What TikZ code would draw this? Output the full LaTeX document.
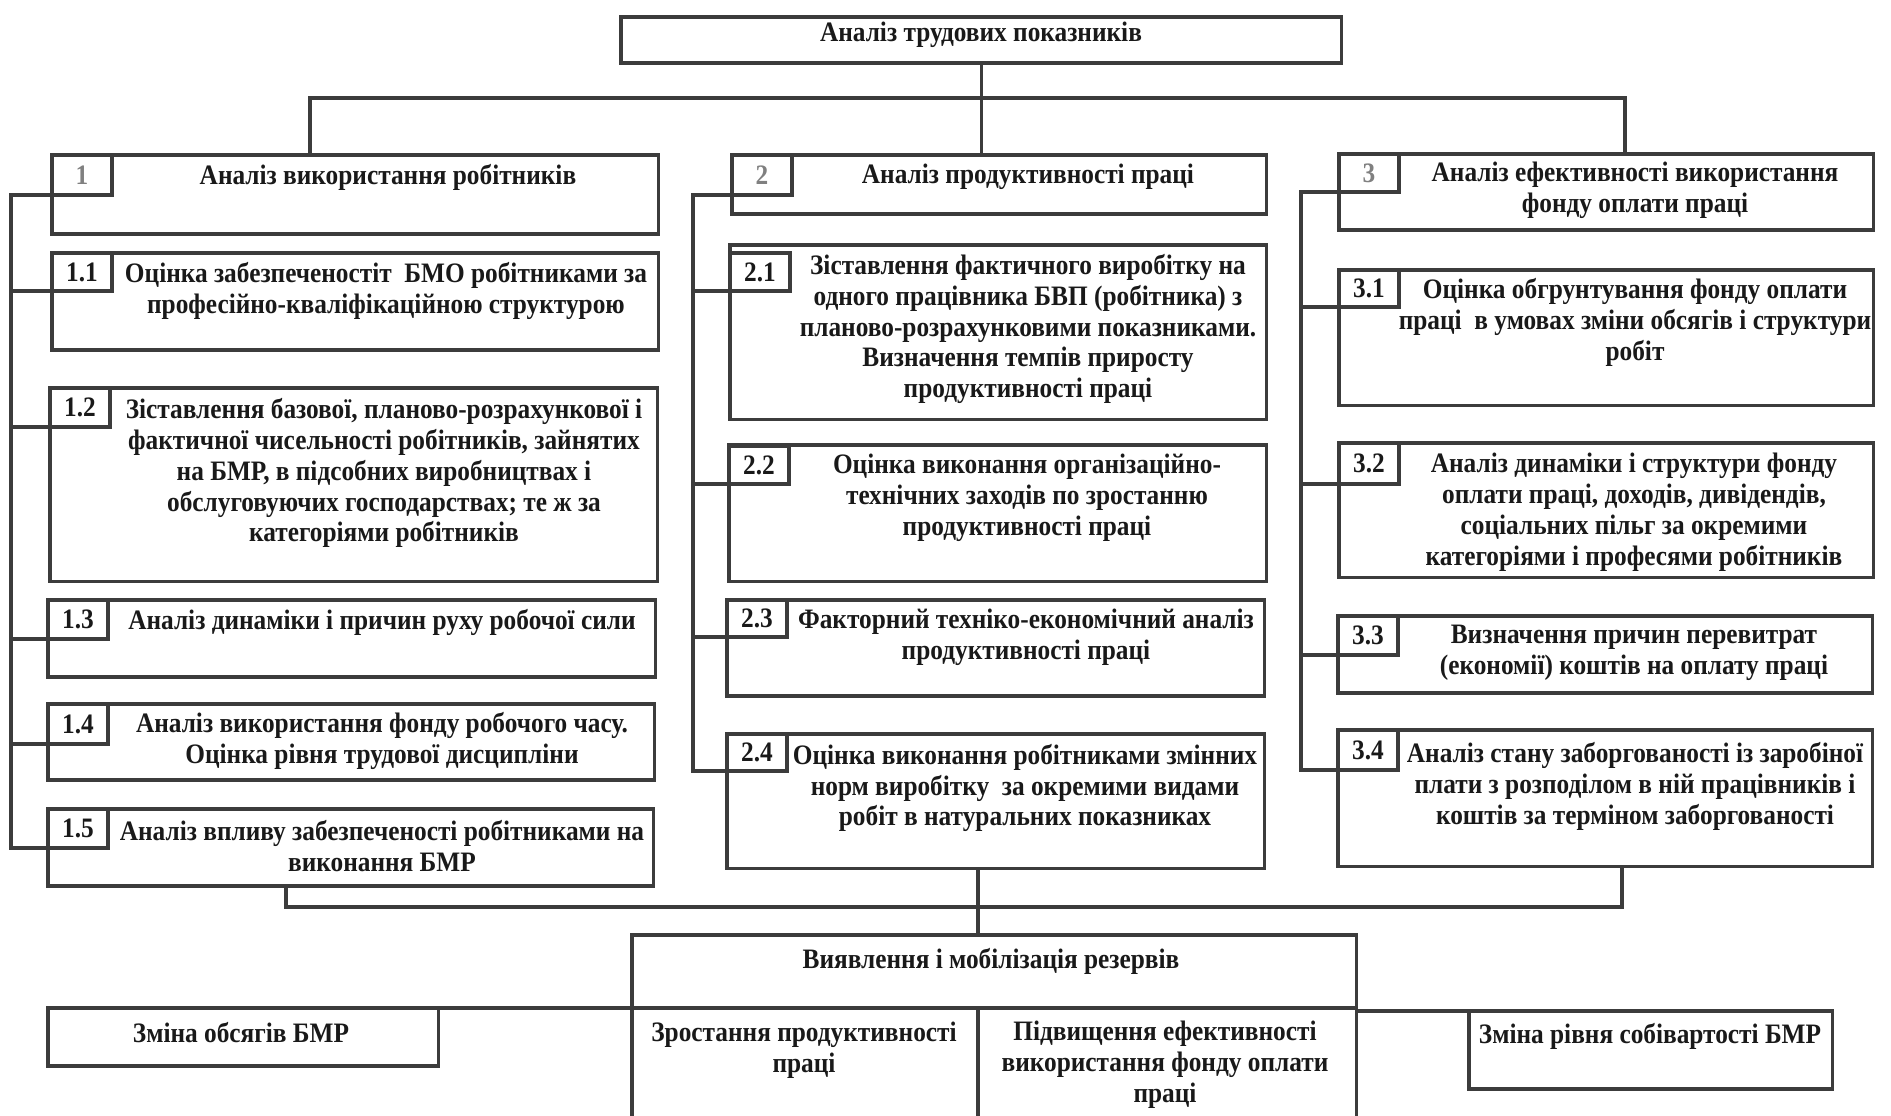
\documentclass[tikz,border=0pt]{standalone}
\usepackage{fontspec}
\setmainfont{Liberation Serif}[FakeStretch=0.9]
\usepackage{xcolor}
\usepackage{tikz}
\usetikzlibrary{calc}

\definecolor{linegray}{RGB}{60,60,60}
\definecolor{inkgray}{RGB}{25,25,25}

\tikzset{
  box/.style={draw=linegray, line width=0.9pt, anchor=north west, inner sep=0pt, outer sep=0pt},
  numbox/.style={box, minimum width=0.6cm, font=\bfseries\fontsize{8}{9}\selectfont, text=inkgray},
  txt/.style={font=\bfseries\fontsize{8}{8.8}\selectfont, align=center, inner sep=0pt, text=inkgray},
  link/.style={draw=linegray, line width=0.9pt}
}

\begin{document}
\begin{tikzpicture}[x=0.01cm, y=-0.01cm]
  \clip (0,0) rectangle (1891,1115);

  % Top box
  \node[box, minimum width=7.2cm, minimum height=0.46cm] (top) at (621,17) {};
  \node[txt] (ttop) at (981,35) {Аналіз трудових показників};

  % Bus under the top box
  \coordinate (busL) at (310,98);
  \coordinate (busR) at (1625,98);

  % Column 1
  \node[box, minimum width=6.06cm, minimum height=0.79cm] (b1) at (52,155) {};
  \node[numbox, minimum height=0.40cm, text=gray] (n1) at (52,155) {1};
  \node[txt] (t1) at (388,177) {Аналіз використання робітників};

  \node[box, minimum width=6.06cm, minimum height=0.97cm] (b11) at (52,253) {};
  \node[numbox, minimum height=0.38cm] (n11) at (52,253) {1.1};
  \node[txt] (t11) at (386,291) {Оцінка забезпеченостіт \ БМО робітниками за\\професійно-кваліфікаційною структурою};

  \node[box, minimum width=6.07cm, minimum height=1.93cm] (b12) at (50,388) {};
  \node[numbox, minimum height=0.39cm] (n12) at (50,388) {1.2};
  \node[txt] (t12) at (384,473) {Зіставлення базової, планово-розрахункової і\\фактичної чисельності робітників, зайнятих\\на БМР, в підсобних виробництвах і\\обслуговуючих господарствах; те ж за\\категоріями робітників};

  \node[box, minimum width=6.07cm, minimum height=0.77cm] (b13) at (48,600) {};
  \node[numbox, minimum height=0.39cm] (n13) at (48,600) {1.3};
  \node[txt] (t13) at (382,622) {Аналіз динаміки і причин руху робочої сили};

  \node[box, minimum width=6.06cm, minimum height=0.76cm] (b14) at (48,704) {};
  \node[numbox, minimum height=0.40cm] (n14) at (48,704) {1.4};
  \node[txt] (t14) at (382,741) {Аналіз використання фонду робочого часу.\\Оцінка рівня трудової дисципліни};

  \node[box, minimum width=6.05cm, minimum height=0.77cm] (b15) at (48,809) {};
  \node[numbox, minimum height=0.39cm] (n15) at (48,809) {1.5};
  \node[txt] (t15) at (382,846) {Аналіз впливу забезпеченості робітниками на\\виконання БМР};

  % Column 2
  \node[box, minimum width=5.34cm, minimum height=0.59cm] (b2) at (732,155) {};
  \node[numbox, minimum height=0.40cm, text=gray] (n2) at (732,155) {2};
  \node[txt] (t2) at (1028,177) {Аналіз продуктивності праці};

  \node[box, minimum width=5.36cm, minimum height=1.74cm] (b21) at (730,245) {};
  \node[numbox, minimum height=0.38cm] (n21) at (730,253) {2.1};
  \node[txt] (t21) at (1028,329) {Зіставлення фактичного виробітку на\\одного працівника БВП (робітника) з\\планово-розрахунковими показниками.\\Визначення темпів приросту\\продуктивності праці};

  \node[box, minimum width=5.37cm, minimum height=1.36cm] (b22) at (729,445) {};
  \node[numbox, minimum height=0.38cm] (n22) at (729,446) {2.2};
  \node[txt] (t22) at (1027,498) {Оцінка виконання організаційно-\\технічних заходів по зростанню\\продуктивності праці};

  \node[box, minimum width=5.37cm, minimum height=0.96cm] (b23) at (727,600) {};
  \node[numbox, minimum height=0.37cm] (n23) at (727,600) {2.3};
  \node[txt] (t23) at (1026,637) {Факторний техніко-економічний аналіз\\продуктивності праці};

  \node[box, minimum width=5.37cm, minimum height=1.34cm] (b24) at (727,734) {};
  \node[numbox, minimum height=0.37cm] (n24) at (727,734) {2.4};
  \node[txt] (t24) at (1025,788) {Оцінка виконання робітниками змінних\\норм виробітку \ за окремими видами\\робіт в натуральних показниках};

  % Column 3
  \node[box, minimum width=5.34cm, minimum height=0.76cm] (b3) at (1339,154) {};
  \node[numbox, minimum height=0.38cm, text=gray] (n3) at (1339,154) {3};
  \node[txt] (t3) at (1635,190) {Аналіз ефективності використання\\фонду оплати праці};

  \node[box, minimum width=5.34cm, minimum height=1.35cm] (b31) at (1339,270) {};
  \node[numbox, minimum height=0.37cm] (n31) at (1339,270) {3.1};
  \node[txt] (t31) at (1635,322) {Оцінка обгрунтування фонду оплати\\праці \ в умовах зміни обсягів і структури\\робіт};

  \node[box, minimum width=5.34cm, minimum height=1.34cm] (b32) at (1339,443) {};
  \node[numbox, minimum height=0.41cm] (n32) at (1339,443) {3.2};
  \node[txt] (t32) at (1634,512) {Аналіз динаміки і структури фонду\\оплати праці, доходів, дивідендів,\\соціальних пільг за окремими\\категоріями і професями робітників};

  \node[box, minimum width=5.34cm, minimum height=0.77cm] (b33) at (1338,616) {};
  \node[numbox, minimum height=0.39cm] (n33) at (1338,616) {3.3};
  \node[txt] (t33) at (1634,653) {Визначення причин перевитрат\\(економії) коштів на оплату праці};

  \node[box, minimum width=5.34cm, minimum height=1.36cm] (b34) at (1338,730) {};
  \node[numbox, minimum height=0.40cm] (n34) at (1338,730) {3.4};
  \node[txt] (t34) at (1635,786) {Аналіз стану заборгованості із заробіної\\плати з розподілом в ній працівників і\\коштів за терміном заборгованості};

  % Reserves block
  \node[box, minimum width=7.24cm, minimum height=0.73cm] (res) at (632,935) {};
  \node[txt] (tres) at (991,961) {Виявлення і мобілізація резервів};

  \node[box, minimum width=3.46cm, minimum height=1.4cm] (lo1) at (632,1008) {};
  \node[txt] (tlo1) at (804,1050) {Зростання продуктивності\\праці};
  \node[box, minimum width=3.78cm, minimum height=1.4cm] (lo2) at (978,1008) {};
  \node[txt] (tlo2) at (1165,1065) {Підвищення ефективності\\використання фонду оплати\\праці};

  \node[box, minimum width=3.9cm, minimum height=0.58cm] (chL) at (48,1008) {};
  \node[txt] (tchL) at (241,1033) {Зміна обсягів БМР};
  \node[box, minimum width=3.63cm, minimum height=0.78cm] (chR) at (1469,1011) {};
  \node[txt] (tchR) at (1650,1036) {Зміна рівня собівартості БМР};

  % Links from the top box
  \draw[link] (top.south) -- (top.south |- busL);
  \draw[link] (b1.north -| busL) -- (busL) -- (busR) -- (b3.north -| busR);
  \draw[link] (top.south |- busL) -- (b2.north -| top.south);

  % Trunks of the three columns
  \coordinate (tr1) at (11,0);
  \coordinate (tr2) at (693,0);
  \coordinate (tr3) at (1301,0);
  \draw[link] (n1.south west) -- (n1.south west -| tr1) -- (n15.south west -| tr1) -- (n15.south west);
  \draw[link] (n2.south west) -- (n2.south west -| tr2) -- (n24.south west -| tr2) -- (n24.south west);
  \draw[link] (n3.south west) -- (n3.south west -| tr3) -- (n34.south west -| tr3) -- (n34.south west);
  \foreach \n/\t in {n11/tr1, n12/tr1, n13/tr1, n14/tr1, n21/tr2, n22/tr2, n23/tr2, n31/tr3, n32/tr3, n33/tr3}
    \draw[link] (\n.south west) -- (\n.south west -| \t);

  % Links down to the reserves
  \coordinate (mL) at (286,907);
  \coordinate (mC) at (978,907);
  \coordinate (mR) at (1622,907);
  \draw[link] (b15.south -| mL) -- (mL) -- (mR) -- (b34.south -| mR);
  \draw[link] (b24.south -| mC) -- (res.north -| mC);
  \draw[link] (chL.north east) -- (lo1.north west);
  \draw[link] (lo2.north east |- chR.north west) -- (chR.north west);
\end{tikzpicture}
\end{document}
